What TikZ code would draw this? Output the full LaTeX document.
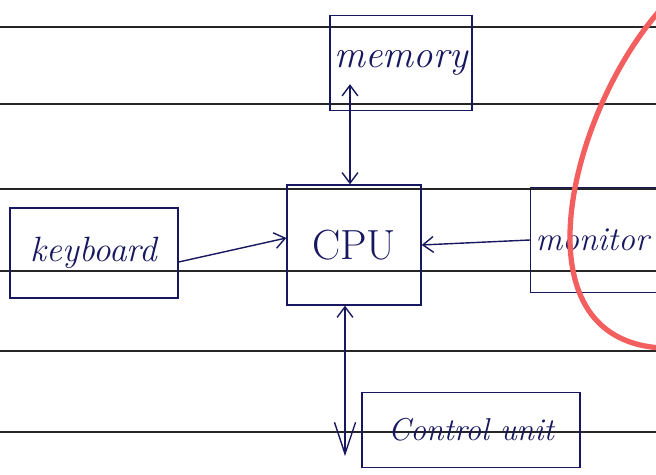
\documentclass[tikz,border=0pt]{standalone}
\usepackage{fontspec}
\usetikzlibrary{arrows.meta, calc}
\definecolor{inkblue}{RGB}{24,24,96}
\definecolor{penred}{RGB}{243,94,94}

\begin{document}
\begin{tikzpicture}[x=0.02cm, y=-0.02cm,
  boxb/.style={draw=inkblue, line width=0.8pt, text=inkblue, inner sep=2pt, align=center},
  rulel/.style={line width=1.3pt, black!85},
  arr/.style={->, >={Straight Barb[length=6pt, width=9pt]}, draw=inkblue, line width=0.8pt},
]
\useasboundingbox[fill=white] (0,0) rectangle (656,475);

% Ruled lines of the page
\foreach \yy in {27, 104, 189, 271, 351, 432}
  \draw[rulel] (0,\yy) -- (656,\yy);

% Boxes
\node[boxb, minimum width=2.84cm, minimum height=1.9cm,
      font=\fontsize{22}{24}\selectfont\itshape] (memory) at (401,63) {memory};
\node[boxb, minimum width=2.68cm, minimum height=2.4cm,
      font=\fontsize{24}{26}\selectfont] (cpu) at (354,245) {CPU};
\node[boxb, minimum width=3.36cm, minimum height=1.8cm,
      font=\fontsize{20}{22}\selectfont\itshape] (keyboard) at (94,253) {keyboard};
\node[boxb, anchor=west, text width=2.8cm, inner xsep=0.1cm, align=left, minimum height=2.1cm,
      font=\fontsize{19}{21}\selectfont\itshape] (monitor) at (530,240) {monitor};
\node[boxb, minimum width=4.36cm, minimum height=1.5cm,
      font=\fontsize{18}{20}\selectfont\itshape] (control) at (471,430) {Control unit};

% Connectors
\draw[arr, <->] ($(cpu.north)+(-4,0)$) -- ($(cpu.north |- memory.south)+(-4,-27)$);
\draw[arr] ($(keyboard.east)+(0,9)$) -- ($(cpu.west)+(0,-7)$);
\draw[arr] (monitor.west) -- (cpu.east);
\draw[draw=inkblue, line width=0.8pt,
      {Straight Barb[length=6pt, width=9pt]}-{Straight Barb[length=18pt, width=12pt]}]
  ($(cpu.south)+(-9,0)$) -- ($(cpu.south |- control.south)+(-9,-12)$);

% Red pen mark
\draw[penred, line width=3pt] (662,8) .. controls (570,110) and (512,340) .. (662,348);
\end{tikzpicture}
\end{document}
